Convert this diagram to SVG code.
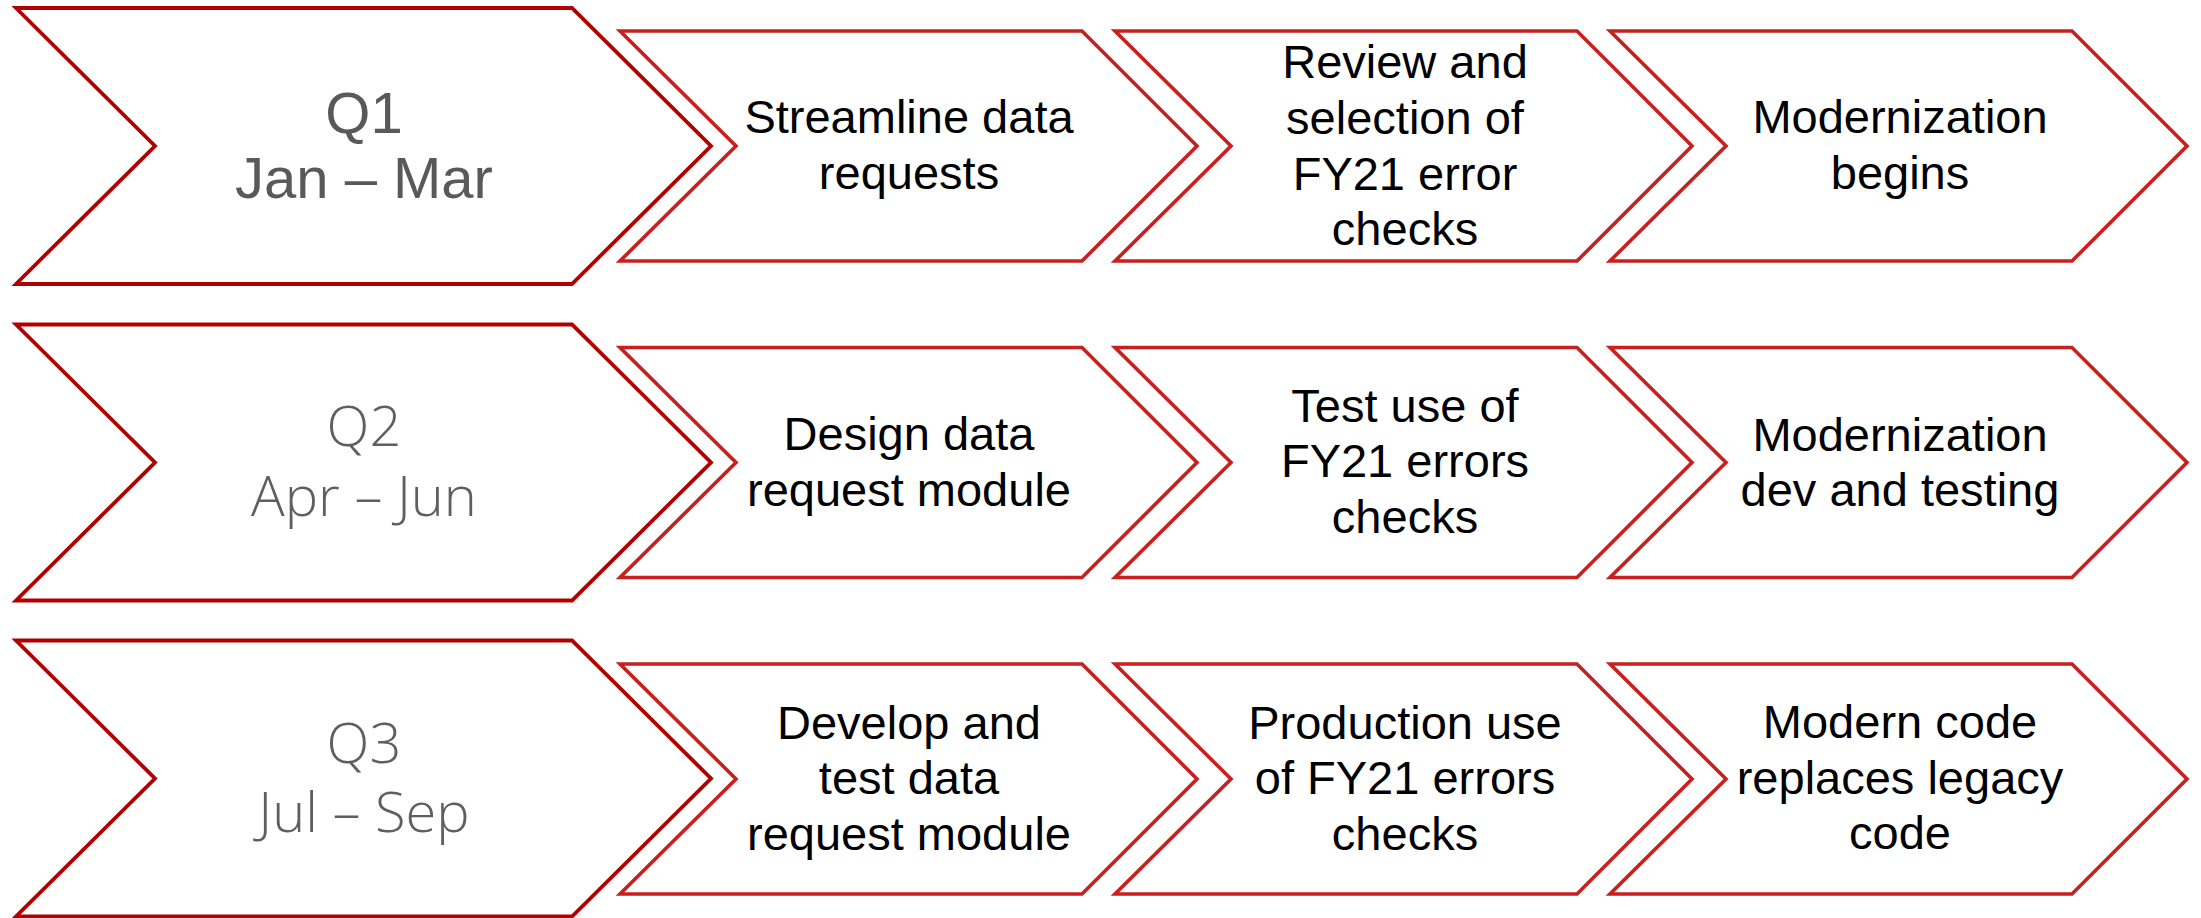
<svg xmlns="http://www.w3.org/2000/svg" xmlns:xlink="http://www.w3.org/1999/xlink" width="2201" height="918" viewBox="0 0 2201 918">
  <style>
    .big { fill: #ffffff; stroke: #B00000; stroke-width: 3.8; stroke-linejoin: miter; }
    .small { fill: #ffffff; stroke: #C8201E; stroke-width: 3.6; stroke-linejoin: miter; }
    .lbl { font-family: "Liberation Sans", Arial, sans-serif; font-size: 47px; fill: #000000; text-anchor: middle; }
    .q1 { font-family: "Liberation Sans", Arial, sans-serif; font-size: 58px; fill: #595959; text-anchor: middle; }
    .qlight { font-family: "Open Sans", "Liberation Sans", sans-serif; font-weight: 300; font-size: 56px; fill: #5f5f5f; text-anchor: middle; }
  </style>
  <defs>
    <polygon id="bigShape" points="0,-138 556,-138 695,0 556,138 0,138 139,0"/>
    <polygon id="smallShape" points="0,-115 462,-115 577,0 462,115 0,115 116,0"/>
  </defs>
  <rect width="2201" height="918" fill="#ffffff"/>

  <!-- Row 1 -->
  <g id="q1">
    <use xlink:href="#bigShape" href="#bigShape" class="big" x="16" y="146"/>
    <text class="q1" x="364" y="133">Q1</text>
    <text class="q1" x="364" y="198">Jan – Mar</text>
  </g>
  <g id="q1-streamline">
    <use xlink:href="#smallShape" href="#smallShape" class="small" x="620" y="146"/>
    <text class="lbl" x="909" y="133">Streamline data</text>
    <text class="lbl" x="909" y="189">requests</text>
  </g>
  <g id="q1-review">
    <use xlink:href="#smallShape" href="#smallShape" class="small" x="1115" y="146"/>
    <text class="lbl" x="1405" y="78">Review and</text>
    <text class="lbl" x="1405" y="134">selection of</text>
    <text class="lbl" x="1405" y="190">FY21 error</text>
    <text class="lbl" x="1405" y="245">checks</text>
  </g>
  <g id="q1-modernization">
    <use xlink:href="#smallShape" href="#smallShape" class="small" x="1610" y="146"/>
    <text class="lbl" x="1900" y="133">Modernization</text>
    <text class="lbl" x="1900" y="189">begins</text>
  </g>

  <!-- Row 2 -->
  <g id="q2">
    <use xlink:href="#bigShape" href="#bigShape" class="big" x="16" y="462.5"/>
    <text class="qlight" x="364" y="446">Q2</text>
    <text class="qlight" x="364" y="516">Apr – Jun</text>
  </g>
  <g id="q2-design">
    <use xlink:href="#smallShape" href="#smallShape" class="small" x="620" y="462.5"/>
    <text class="lbl" x="909" y="450">Design data</text>
    <text class="lbl" x="909" y="506">request module</text>
  </g>
  <g id="q2-test">
    <use xlink:href="#smallShape" href="#smallShape" class="small" x="1115" y="462.5"/>
    <text class="lbl" x="1405" y="422">Test use of</text>
    <text class="lbl" x="1405" y="477">FY21 errors</text>
    <text class="lbl" x="1405" y="533">checks</text>
  </g>
  <g id="q2-modernization">
    <use xlink:href="#smallShape" href="#smallShape" class="small" x="1610" y="462.5"/>
    <text class="lbl" x="1900" y="451">Modernization</text>
    <text class="lbl" x="1900" y="506">dev and testing</text>
  </g>

  <!-- Row 3 -->
  <g id="q3">
    <use xlink:href="#bigShape" href="#bigShape" class="big" x="16" y="778.5"/>
    <text class="qlight" x="364" y="763">Q3</text>
    <text class="qlight" x="364" y="832">Jul – Sep</text>
  </g>
  <g id="q3-develop">
    <use xlink:href="#smallShape" href="#smallShape" class="small" x="620" y="779"/>
    <text class="lbl" x="909" y="739">Develop and</text>
    <text class="lbl" x="909" y="794">test data</text>
    <text class="lbl" x="909" y="850">request module</text>
  </g>
  <g id="q3-production">
    <use xlink:href="#smallShape" href="#smallShape" class="small" x="1115" y="779"/>
    <text class="lbl" x="1405" y="739">Production use</text>
    <text class="lbl" x="1405" y="794">of FY21 errors</text>
    <text class="lbl" x="1405" y="850">checks</text>
  </g>
  <g id="q3-modern-code">
    <use xlink:href="#smallShape" href="#smallShape" class="small" x="1610" y="779"/>
    <text class="lbl" x="1900" y="738">Modern code</text>
    <text class="lbl" x="1900" y="794">replaces legacy</text>
    <text class="lbl" x="1900" y="849">code</text>
  </g>
</svg>
